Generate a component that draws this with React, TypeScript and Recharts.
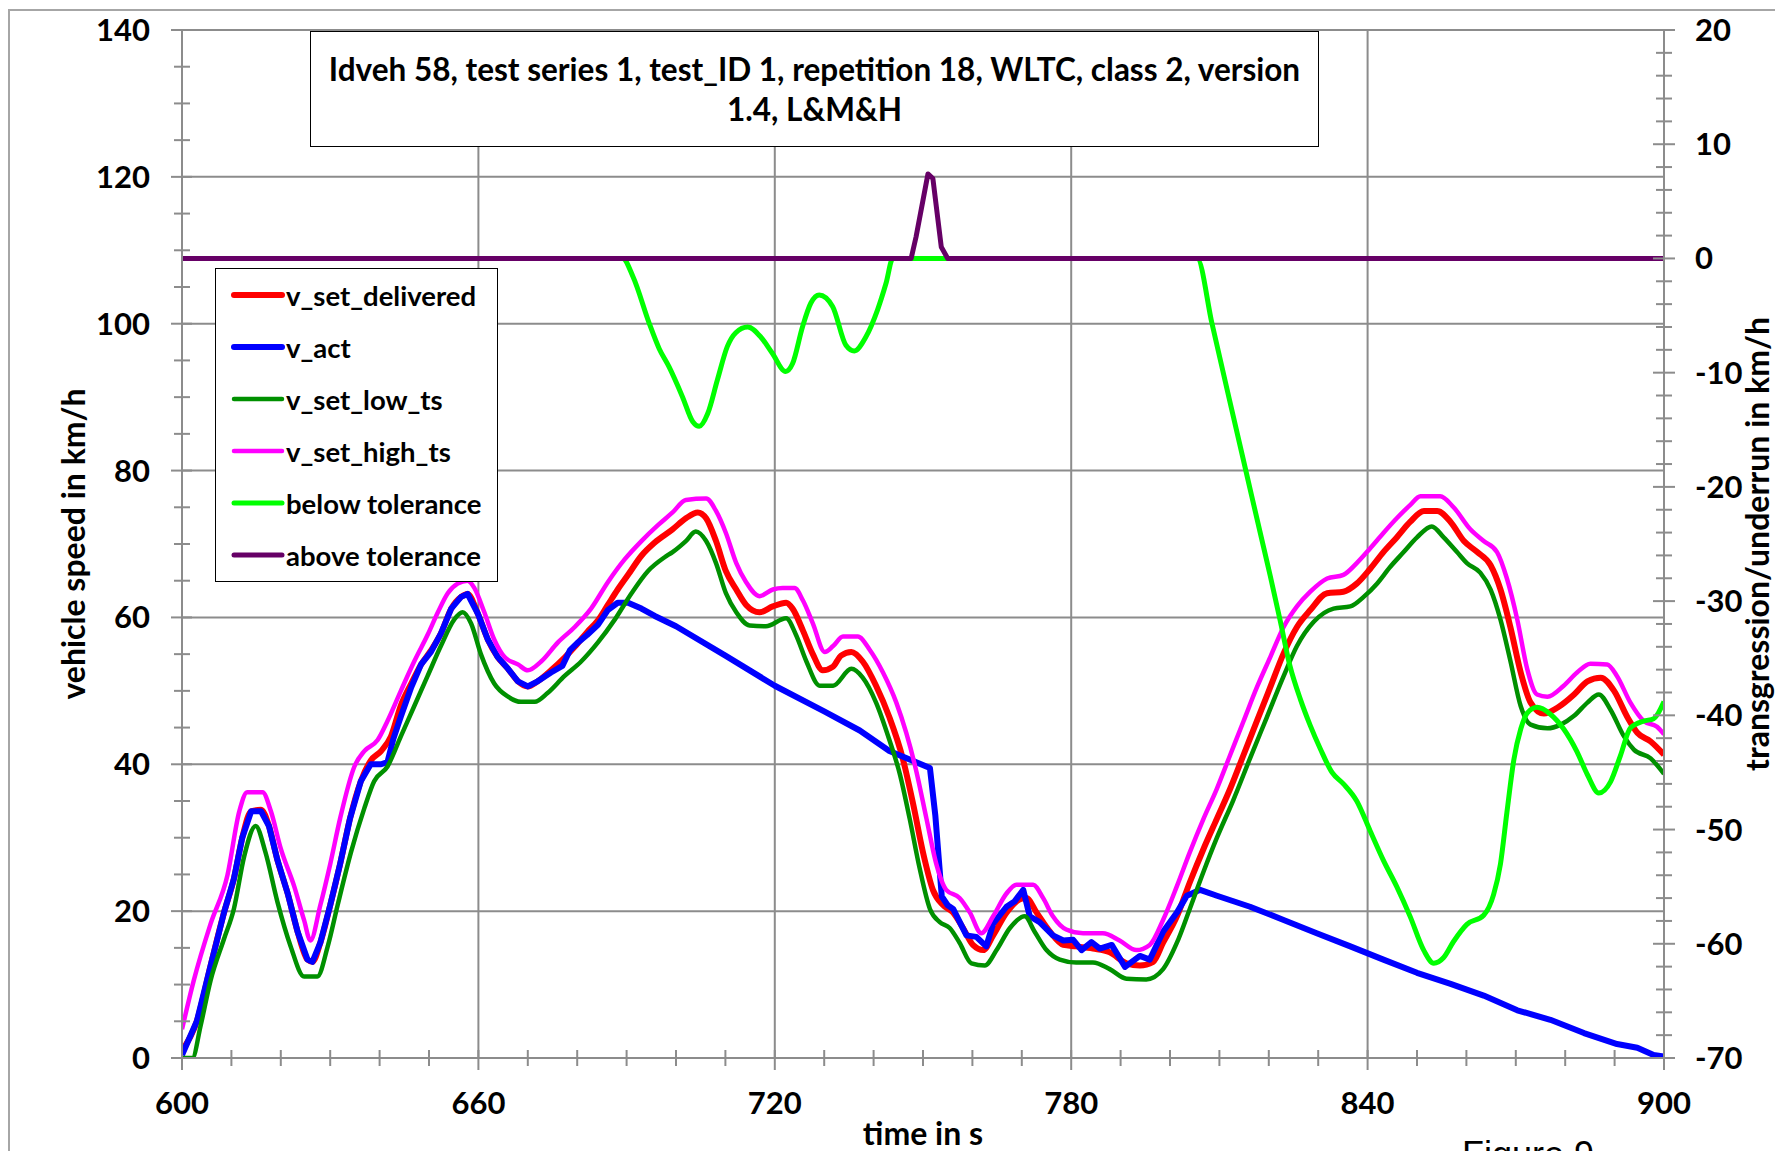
import React from "react";
import { ComposedChart, Legend, Line, ReferenceLine, XAxis, YAxis } from "recharts";

// v_set_delivered (km/h) over time (s)
const deliveredTime = [600, 603, 605.8, 608.5, 610.5, 612.2, 614, 616, 617.6, 619.3, 621.4, 623.4, 625.4, 626.4, 628, 630, 632, 634, 636.2, 638.2, 640.3, 642.3, 644.3, 646.4, 648.4, 650.4, 652.4, 654.5, 656.5, 657.8, 659.9, 661.9, 663.9, 666, 668, 670, 672, 674.7, 677.4, 679.5, 682, 684.2, 686.2, 688.2, 690.3, 693, 695.7, 699.3, 702, 704.4, 706.1, 708.1, 710.1, 712.2, 714.2, 716.9, 719.6, 722.3, 723.6, 725.7, 727.7, 729.7, 731.8, 733.4, 735.5, 737.8, 740.5, 743.2, 745.9, 748, 750, 752, 754.1, 756.1, 758.1, 760.1, 762.2, 764.2, 766.9, 769.6, 770.9, 773, 775.7, 778.4, 781, 784.4, 787.8, 791.2, 793.9, 796.6, 798.6, 801.4, 804, 806.8, 809.5, 812.2, 814.9, 817.6, 820.3, 823, 825.7, 828.4, 831.8, 835.1, 837.8, 840.5, 843.2, 845.9, 848.6, 851.4, 854.1, 856.8, 859.5, 862.2, 864.9, 866.9, 868.9, 871, 873, 875.7, 878.4, 881.8, 884.5, 887.2, 889.9, 892.6, 894.6, 897.3, 900];
const deliveredSpeed = [1, 5, 12.6, 19.8, 24.4, 30, 33.6, 33.8, 31.6, 27, 22.4, 17.2, 13.4, 13.1, 15.7, 20.8, 26.4, 32.6, 37.7, 40.5, 41.8, 43.8, 48, 51, 53.6, 55.5, 57.8, 61.2, 62.8, 63.2, 60.5, 57, 54.6, 53, 51.3, 50.6, 51.3, 52.8, 54.5, 56, 58, 59.6, 61.7, 63.8, 65.8, 68.4, 70.2, 72, 73.5, 74.3, 73.5, 70.4, 66.3, 63.8, 61.7, 60.7, 61.5, 62, 61.2, 58.2, 55, 52.8, 53.3, 54.8, 55.3, 54, 50.7, 46.4, 40.8, 34.6, 28, 22.9, 20.8, 19.8, 17.7, 15.4, 14.7, 16.7, 19.8, 21.6, 21.8, 19.8, 17.2, 15.4, 15.2, 14.9, 14.4, 12.9, 12.6, 13.1, 15.7, 19.3, 23.9, 28.5, 32.6, 36.7, 41.3, 45.9, 50.5, 55.1, 58.7, 61, 63.3, 63.5, 64.6, 66.6, 68.9, 70.9, 73, 74.5, 74.5, 73, 70.4, 68.9, 67.1, 63.8, 58.7, 52.5, 48.4, 46.9, 47.7, 49.5, 51.3, 51.8, 50, 46.4, 44.3, 43.1, 41.3];

// v_act (km/h)
const actTime = [600, 603, 605.8, 608.5, 610.5, 612.2, 614, 616, 617.6, 619.3, 621.4, 623.4, 625.4, 626.4, 628, 630, 632, 634, 636.2, 638.2, 640.3, 641.6, 642.8, 644.3, 646.4, 648.4, 650.4, 652.4, 654.5, 656.5, 657.8, 659.9, 661.9, 663.9, 666, 668, 670, 672, 674.7, 677, 678.5, 680, 682, 684.2, 686.2, 688.2, 690.3, 693, 695.7, 700, 710, 720, 730, 737.2, 743.2, 751.4, 752.5, 753.8, 755, 756.1, 758.8, 760.8, 762.8, 764.2, 766.9, 768.5, 770.3, 771.6, 773.6, 776.3, 778.4, 780.4, 782.1, 784.1, 785.8, 788.2, 790.9, 793.9, 795.9, 798.6, 801.4, 803.4, 806.1, 809.5, 816.2, 823, 829.7, 836.5, 843.2, 850, 856.8, 863.5, 870.3, 877, 883.8, 890.5, 894.6, 897.9, 900];
const actSpeed = [0.4, 5, 12.6, 19.8, 24.4, 30, 33.6, 33.6, 31.6, 27, 22.4, 17.2, 13.4, 13.1, 15.7, 20.8, 26.4, 32.6, 37.7, 40, 40, 40.3, 43.5, 46.5, 50.5, 53.6, 55.3, 57.8, 61.2, 62.8, 63.2, 60.5, 57, 54.6, 53, 51.3, 50.6, 51.3, 52.5, 53.4, 55.5, 56.5, 57.6, 59, 61, 62, 62, 61.2, 60.2, 58.8, 54.8, 50.7, 47.2, 44.6, 41.8, 39.5, 33, 22, 20.8, 20.3, 16.7, 16.5, 15.2, 18.3, 20.6, 21.3, 22.9, 19.3, 18.5, 16.7, 16, 16.1, 14.7, 15.8, 14.9, 15.4, 12.4, 13.9, 13.4, 17.2, 19.8, 22.1, 22.9, 22.1, 20.6, 18.8, 17, 15.2, 13.4, 11.6, 10.1, 8.5, 6.5, 5.2, 3.4, 1.9, 1.4, 0.4, 0.2];

// v_set_low_ts (km/h)
const lowTime = [600, 602.1, 603.8, 605.8, 608.5, 610.5, 612.6, 614.9, 616.9, 619.3, 622, 624.7, 627.4, 629.5, 631.5, 634.2, 636.9, 638.9, 641.6, 644.3, 647, 649.7, 652.4, 655.1, 656.8, 658.5, 660.5, 663.2, 666, 668.6, 671.4, 674, 677.4, 680.8, 684.2, 687.6, 691, 694.3, 697.7, 699.3, 702, 704, 706.1, 708.1, 710.1, 712.2, 714.9, 718.2, 722.3, 724.3, 726.4, 729.1, 731.8, 735.5, 737.8, 740.5, 743.2, 745.3, 747.3, 749.3, 751.4, 753.4, 755.4, 757.4, 759.8, 762.5, 764.9, 767.6, 770.6, 772.6, 775, 777.7, 781, 784.4, 787.8, 791.2, 795.2, 798.6, 801.4, 804, 806.8, 809.5, 812.8, 816.2, 819.6, 823, 825.7, 829.1, 833.1, 836.5, 839.2, 841.9, 844.6, 847.3, 850, 853, 855.4, 858.1, 860.1, 862.8, 864.9, 866.9, 868.9, 871, 873, 876.4, 879.1, 881.8, 884.5, 886.8, 889.2, 891.9, 893.9, 897.3, 900];
const lowSpeed = [0, 0, 4.5, 10.6, 16.2, 20.3, 27.5, 31.6, 28, 21.3, 15.2, 11.1, 11.1, 15.2, 20.8, 28, 34, 37.7, 39.7, 43.8, 47.9, 52, 56.1, 59.7, 60.7, 59.2, 55, 51, 49.2, 48.5, 48.5, 49.7, 52, 54, 56.6, 59.7, 63.3, 66.3, 68.2, 68.9, 70.4, 71.7, 70.4, 67.4, 63.3, 60.7, 58.9, 58.8, 59.9, 57.6, 54, 50.7, 50.7, 53, 51.8, 48.4, 43.3, 38.7, 32.6, 25.9, 20.3, 18.5, 17.7, 15.7, 12.9, 12.6, 14.7, 17.7, 19.3, 17.2, 14.7, 13.4, 13, 13, 12.1, 10.8, 10.7, 12.1, 15.7, 20.3, 25.4, 30, 35.1, 40.8, 46.4, 52, 56.1, 59.4, 61.2, 61.5, 62.8, 64.6, 66.9, 68.9, 70.9, 72.4, 70.9, 68.9, 67.4, 66.1, 63.8, 59.7, 54.1, 47.9, 45.4, 44.9, 45.4, 46.6, 48.4, 49.5, 47.4, 43.8, 42, 40.8, 38.7];

// v_set_high_ts (km/h)
const highTime = [600, 602.4, 605.8, 609.2, 611.6, 613.2, 616.3, 618, 620, 622.7, 624.7, 626, 628, 630, 632, 634.9, 636.9, 639.6, 641.6, 644.3, 647, 649.7, 651.8, 653.8, 655.8, 657.8, 659.2, 661.2, 663.2, 665.3, 668, 670, 672.7, 676.1, 679.5, 682.8, 686.2, 689.6, 693, 696.4, 699.3, 702, 706.1, 708.1, 710.1, 712.2, 714.2, 716.9, 719.6, 721.6, 724, 725.7, 727.7, 730.1, 731.8, 733.8, 736.8, 739.2, 741.9, 744.6, 746.6, 748.6, 750.7, 752.7, 754.7, 757.4, 759.5, 761.8, 764.2, 766.9, 768.9, 772.3, 774.3, 776.3, 779, 782.4, 786.4, 789.8, 793.2, 795.9, 798.6, 801.4, 804, 806.8, 809.5, 812.2, 814.9, 817.6, 820.3, 823, 825.7, 828.4, 831.8, 835.1, 837.8, 840.5, 843.2, 845.9, 848.6, 850.7, 854.7, 857.4, 860.8, 863.5, 866.2, 868.2, 870.3, 872.3, 874.3, 876.4, 879.7, 882.4, 885.1, 888.5, 890.5, 893.2, 895.9, 898.6, 900];
const highSpeed = [3.9, 10.6, 18.3, 24.9, 33.6, 36.2, 36.2, 33.6, 28.5, 23.4, 18.8, 16, 20.8, 26.4, 32.6, 39.7, 41.8, 43.3, 45.9, 50, 54, 57.6, 60.7, 63.3, 64.6, 65, 64, 60.7, 57, 54.6, 53.6, 52.8, 54, 56.6, 58.7, 61.2, 64.8, 67.9, 70.4, 72.6, 74.3, 76, 76.2, 74.5, 71.5, 67.4, 64.8, 62.9, 63.8, 64, 64, 62.3, 59.2, 55.3, 56.1, 57.4, 57.4, 55.6, 52.5, 48.4, 44.3, 39.2, 32.6, 26.4, 22.9, 21.8, 19.8, 17, 19.3, 22.4, 23.6, 23.6, 21.8, 19.3, 17.5, 17, 17, 16, 14.7, 15.4, 18.8, 23.4, 28, 32.6, 36.7, 41.3, 45.9, 50.5, 54.6, 58.7, 61.5, 63.5, 65.3, 65.8, 67.4, 69.4, 71.5, 73.5, 75.3, 76.5, 76.5, 75, 72, 70.4, 68.9, 65.3, 59.7, 53, 49.5, 49.2, 50.7, 52.5, 53.7, 53.6, 52, 48.4, 45.9, 45.1, 44.1];

// below tolerance (km/h, right axis)
const belowTime = [600, 689.2, 691.3, 694.6, 696.6, 698.6, 701.3, 703.4, 704.7, 706.4, 708.4, 710.4, 712.1, 714.5, 717.2, 719.5, 722.2, 723.6, 725.6, 727.3, 729, 731.7, 734.4, 736.1, 738.4, 740.8, 742.5, 743.9, 805.5, 808.5, 812, 815.9, 818.2, 820.3, 822.3, 824.3, 826.4, 828.4, 830.4, 832.8, 835.1, 837.8, 840.5, 843.2, 845.9, 848.6, 851.4, 853.4, 855.4, 857.4, 860.1, 863.5, 865.5, 866.9, 868.2, 869.6, 871, 872.3, 874.3, 877, 879.7, 882.4, 884.5, 886.8, 889.2, 891.2, 893.2, 895.9, 897.9, 900];
const belowValue = [0, 0, -1.6, -5.7, -7.9, -9.5, -12.1, -14.3, -14.7, -13.6, -10.6, -7.7, -6.5, -6, -6.9, -8.3, -9.9, -9.2, -6, -3.9, -3.2, -4.2, -7.6, -8.1, -6.9, -4.5, -2.2, 0, 0, -5.7, -12.3, -19.6, -23.9, -27.8, -31.7, -35.7, -38.6, -40.9, -42.9, -45, -46, -47.5, -50.1, -52.7, -55, -57.6, -60.6, -61.7, -61.2, -59.8, -58.3, -57.5, -55.7, -53, -48.5, -43.9, -41.2, -39.8, -39.3, -39.9, -41.2, -43.2, -45.2, -46.8, -45.8, -43.5, -41.1, -40.5, -40.3, -38.8];

// above tolerance (km/h, right axis)
const aboveTime = [600, 747.6, 748.6, 751, 752, 753.7, 755, 900];
const aboveValue = [0, 0, 1.9, 7.4, 7, 1, 0, 0];

const timeLabels = [600, 660, 720, 780, 840, 900];
const speedLabels = [0, 20, 40, 60, 80, 100, 120, 140];
const deviationLabels = [-70, -60, -50, -40, -30, -20, -10, 0, 10, 20];

const titleLines = [
  "Idveh 58, test series 1, test_ID 1, repetition 18, WLTC, class 2, version",
  "1.4, L&M&H",
];

const FONT = "Lato, 'Open Sans', sans-serif";
const GRID = "#8c8c8c";

const SERIES = [
  { key: "delivered", name: "v_set_delivered", color: "#ff0000", width: 6, axis: "left", time: deliveredTime, value: deliveredSpeed, curve: "monotone" },
  { key: "act", name: "v_act", color: "#0000ff", width: 6, axis: "left", time: actTime, value: actSpeed, curve: "linear" },
  { key: "low", name: "v_set_low_ts", color: "#009000", width: 4.5, axis: "left", time: lowTime, value: lowSpeed, curve: "monotone" },
  { key: "high", name: "v_set_high_ts", color: "#ff00ff", width: 4.5, axis: "left", time: highTime, value: highSpeed, curve: "monotone" },
  { key: "below", name: "below tolerance", color: "#00ff00", width: 5, axis: "right", time: belowTime, value: belowValue, curve: "monotone" },
  { key: "above", name: "above tolerance", color: "#660066", width: 5, axis: "right", time: aboveTime, value: aboveValue, curve: "linear" },
] as const;

const toPoints = (ts: readonly number[], vs: readonly number[]) =>
  ts.map((t, i) => ({ t, v: vs[i] }));

const xTicks = Array.from({ length: 31 }, (_, i) => 600 + i * 10);
const leftTicks = Array.from({ length: 29 }, (_, i) => i * 5);
const rightTicks = Array.from({ length: 46 }, (_, i) => -70 + i * 2);

const labelStyle = { fontFamily: FONT, fontWeight: 700, fontSize: 31, fill: "#000" };
const titleStyle = { fontFamily: FONT, fontWeight: 700, fontSize: 32, fill: "#000" };

function TimeTick({ x, y, payload }: any) {
  const major = timeLabels.includes(payload.value);
  return (
    <g>
      <line x1={x} x2={x} y1={y - 8} y2={y + (major ? 12 : 8)} stroke={GRID} strokeWidth={2} />
      {major && (
        <text x={x} y={y + 56} textAnchor="middle" {...labelStyle}>
          {payload.value}
        </text>
      )}
    </g>
  );
}

function SpeedTick({ x, y, payload }: any) {
  const major = speedLabels.includes(payload.value);
  return (
    <g>
      <line x1={x - (major ? 11 : 8)} x2={x + (major ? 10 : 8)} y1={y} y2={y} stroke={GRID} strokeWidth={2} />
      {major && (
        <text x={x - 32} y={y} dy={11} textAnchor="end" {...labelStyle}>
          {payload.value}
        </text>
      )}
    </g>
  );
}

function DeviationTick({ x, y, payload }: any) {
  const major = deviationLabels.includes(payload.value);
  return (
    <g>
      <line x1={x - (major ? 11 : 8)} x2={x + (major ? 11 : 8)} y1={y} y2={y} stroke={GRID} strokeWidth={2} />
      {major && (
        <text x={x + 31} y={y} dy={11} textAnchor="start" {...labelStyle}>
          {payload.value}
        </text>
      )}
    </g>
  );
}

function LegendBox() {
  return (
    <div
      style={{
        width: 283,
        height: 314,
        boxSizing: "border-box",
        border: "1.5px solid #000",
        background: "#fff",
        paddingLeft: 15,
        paddingTop: 0,
      }}
    >
      {SERIES.map((s) => (
        <div key={s.key} style={{ display: "flex", alignItems: "center", height: 52 }}>
          <svg width={55} height={12} style={{ display: "block" }}>
            <line x1={3} x2={51} y1={6} y2={6} stroke={s.color} strokeWidth={s.width} strokeLinecap="round" />
          </svg>
          <span style={{ fontFamily: FONT, fontWeight: 700, fontSize: 27.5, color: "#000", whiteSpace: "nowrap" }}>
            {s.name}
          </span>
        </div>
      ))}
    </div>
  );
}

export default function App() {
  return (
    <div style={{ position: "relative", width: 1775, height: 1151, overflow: "hidden", background: "#fff", fontFamily: FONT }}>
      <style>{"body{margin:0;overflow:hidden}"}</style>
      <div
        style={{
          position: "absolute",
          left: 8,
          top: 9,
          width: 1900,
          height: 1300,
          border: "2px solid #a6a6a6",
          boxSizing: "border-box",
        }}
      />
      <ComposedChart width={1775} height={1151} margin={{ top: 30, right: 0, bottom: 0, left: 0 }}>
        <XAxis
          dataKey="t"
          type="number"
          domain={[600, 900]}
          ticks={xTicks}
          interval={0}
          allowDataOverflow
          height={93}
          tickSize={0}
          tickMargin={0}
          tickLine={false}
          axisLine={{ stroke: GRID, strokeWidth: 2 }}
          tick={<TimeTick />}
          label={{ value: "time in s", position: "insideBottom", offset: 6, style: titleStyle }}
        />
        <YAxis
          yAxisId="left"
          type="number"
          domain={[0, 140]}
          ticks={leftTicks}
          interval={0}
          allowDataOverflow
          width={182}
          tickSize={0}
          tickMargin={0}
          tickLine={false}
          axisLine={{ stroke: GRID, strokeWidth: 2 }}
          tick={<SpeedTick />}
          label={{
            value: "vehicle speed in km/h",
            angle: -90,
            position: "insideLeft",
            offset: 74,
            style: { ...titleStyle, textAnchor: "middle" },
          }}
        />
        <YAxis
          yAxisId="right"
          orientation="right"
          type="number"
          domain={[-70, 20]}
          ticks={rightTicks}
          interval={0}
          allowDataOverflow
          width={111}
          tickSize={0}
          tickMargin={0}
          tickLine={false}
          axisLine={{ stroke: GRID, strokeWidth: 2 }}
          tick={<DeviationTick />}
          label={{
            value: "transgression/underrun in km/h",
            angle: -90,
            position: "insideRight",
            offset: 17,
            style: { ...titleStyle, textAnchor: "middle" },
          }}
        />
        {timeLabels.slice(1, -1).map((t) => (
          <ReferenceLine key={`gx${t}`} x={t} yAxisId="left" stroke={GRID} strokeWidth={2} />
        ))}
        {speedLabels.slice(1).map((v) => (
          <ReferenceLine key={`gy${v}`} y={v} yAxisId="left" stroke={GRID} strokeWidth={2} />
        ))}
        {SERIES.map((s) => (
          <Line
            key={s.key}
            yAxisId={s.axis}
            data={toPoints(s.time, s.value)}
            dataKey="v"
            name={s.name}
            type={s.curve}
            stroke={s.color}
            strokeWidth={s.width}
            strokeLinejoin="round"
            dot={false}
            activeDot={false}
            isAnimationActive={false}
          />
        ))}
        <Legend
          layout="horizontal"
          align="center"
          verticalAlign="middle"
          content={() => <LegendBox />}
          wrapperStyle={{ left: 215, top: 268, width: 283, height: 314 }}
        />
      </ComposedChart>
      <div
        style={{
          position: "absolute",
          left: 310,
          top: 31,
          width: 1009,
          height: 116,
          boxSizing: "border-box",
          border: "1.5px solid #000",
          background: "#fff",
          display: "flex",
          flexDirection: "column",
          justifyContent: "center",
          alignItems: "center",
          fontWeight: 700,
          fontSize: 31.5,
          lineHeight: "40px",
          color: "#000",
        }}
      >
        {titleLines.map((l) => (
          <div key={l} style={{ whiteSpace: "nowrap" }}>{l}</div>
        ))}
      </div>
      <div
        style={{
          position: "absolute",
          left: 1462,
          top: 1137,
          fontFamily: "'Liberation Sans', Arial, sans-serif",
          fontSize: 36,
          lineHeight: "36px",
          color: "#000",
        }}
      >
        Figure 9
      </div>
    </div>
  );
}
